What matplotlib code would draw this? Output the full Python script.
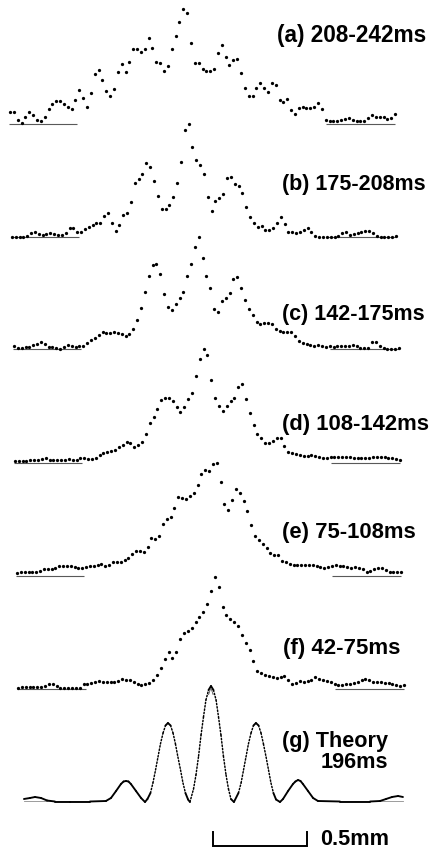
import numpy as np
import matplotlib
matplotlib.use("Agg")
import matplotlib.pyplot as plt
from matplotlib.collections import LineCollection

# ---------------- data (heights above each trace's baseline, arbitrary units) -------------
labels = ["(a) 208-242ms", "(b) 175-208ms", "(c) 142-175ms",
          "(d) 108-142ms", "(e) 75-108ms", "(f) 42-75ms"]

# position of first / last sample of each measured profile (mm)
x_start = [-1.069, -1.059, -1.048, -1.043, -1.032, -1.027]
x_end = [0.979, 0.984, 1.000, 1.005, 1.011, 1.027]

prof_a = [12, 12, 4, 1, 7, 12, 9, 4, 3, 7, 15, 20, 23, 23, 20, 17, 15, 24, 34, 26,
          17, 31, 50, 54, 44, 33, 28, 35, 52, 60, 52, 62, 75, 75, 72, 75, 86, 76, 62, 61,
          53, 58, 75, 88, 102, 115, 111, 81, 61, 61, 55, 53, 53, 55, 71, 79, 67, 59, 64, 65,
          51, 36, 28, 28, 36, 41, 36, 32, 41, 39, 24, 22, 25, 14, 10, 16, 17, 16, 16, 17,
          21, 15, 4, 3, 3, 3, 4, 5, 6, 4, 3, 3, 3, 6, 9, 7, 7, 7, 5, 6, 10]
prof_b = [0, 0, 0, 0, 1, 4, 5, 3, 2, 3, 4, 3, 2, 2, 4, 9, 9, 5, 5, 8,
          10, 12, 14, 14, 21, 24, 14, 6, 12, 22, 24, 35, 54, 58, 63, 74, 70, 56, 41, 28,
          28, 32, 40, 54, 75, 107, 113, 90, 77, 72, 63, 40, 26, 36, 39, 43, 59, 60, 53, 51,
          44, 30, 20, 14, 10, 11, 7, 7, 9, 14, 20, 13, 5, 5, 4, 5, 7, 9, 5, 1,
          0, 0, 0, 0, 0, 1, 4, 5, 2, 3, 4, 5, 6, 6, 4, 1, 0, 0, 0, 0, 1]
prof_c = [3, 1, 1, 2, 2, 4, 5, 7, 5, 2, 2, 1, 0, 2, 4, 3, 2, 3, 3, 6,
          9, 11, 14, 17, 16, 16, 17, 16, 15, 13, 15, 20, 29, 41, 57, 73, 84, 85, 75, 55,
          42, 39, 45, 51, 57, 73, 85, 102, 112, 91, 73, 61, 40, 37, 48, 51, 56, 70, 72, 61,
          49, 40, 34, 27, 25, 26, 26, 25, 20, 18, 17, 17, 17, 13, 8, 6, 5, 4, 3, 4,
          3, 2, 3, 2, 3, 3, 3, 3, 4, 3, 1, 1, 1, 7, 7, 3, 1, 0, 0, 0, 1]
prof_d = [2, 2, 2, 2, 3, 3, 3, 4, 5, 3, 3, 3, 3, 3, 4, 3, 3, 5, 5, 4,
          4, 5, 8, 10, 11, 12, 13, 16, 18, 21, 20, 16, 18, 21, 29, 40, 46, 54, 63, 65,
          65, 62, 56, 51, 56, 64, 70, 87, 104, 114, 108, 83, 65, 57, 52, 57, 62, 65, 76, 79,
          64, 50, 38, 29, 25, 20, 20, 22, 25, 25, 17, 11, 10, 9, 8, 7, 7, 8, 7, 6,
          5, 5, 6, 6, 6, 6, 6, 6, 5, 5, 5, 5, 5, 6, 6, 6, 6, 5, 5, 4, 3]
prof_e = [3, 4, 4, 4, 4, 4, 5, 7, 7, 7, 8, 10, 10, 10, 10, 9, 8, 8, 9, 10,
          10, 11, 12, 10, 11, 14, 14, 14, 16, 18, 22, 25, 25, 24, 29, 38, 37, 40, 52, 57,
          59, 68, 79, 78, 77, 80, 83, 91, 102, 106, 105, 112, 113, 94, 72, 66, 76, 87, 83, 75,
          65, 51, 40, 36, 32, 28, 23, 21, 21, 15, 14, 12, 11, 11, 11, 11, 11, 11, 10, 9,
          8, 9, 10, 11, 10, 10, 9, 8, 9, 8, 7, 4, 5, 7, 8, 8, 6, 4, 4, 4, 4]
prof_f = [1, 2, 2, 2, 2, 2, 2, 3, 5, 5, 3, 1, 1, 1, 1, 1, 1, 5, 5, 6,
          7, 8, 7, 7, 7, 7, 8, 10, 9, 9, 7, 5, 4, 5, 6, 9, 14, 21, 30, 37,
          31, 37, 50, 56, 58, 61, 67, 72, 77, 85, 98, 112, 102, 82, 74, 70, 67, 63, 54, 46,
          39, 28, 18, 16, 14, 13, 12, 11, 12, 13, 9, 5, 6, 8, 7, 8, 9, 12, 10, 9,
          8, 7, 5, 4, 4, 5, 5, 6, 7, 9, 10, 9, 7, 7, 7, 6, 6, 5, 4, 3, 4]
profiles = [prof_a, prof_b, prof_c, prof_d, prof_e, prof_f]

# theory curve (g), 196 ms : position (mm) and height
theory_x = [-0.995, -0.963, -0.936, -0.904, -0.872, -0.830, -0.750, -0.644, -0.559, -0.532,
            -0.505, -0.479, -0.465, -0.452, -0.439, -0.426, -0.399, -0.372, -0.351, -0.338,
            -0.322, -0.309, -0.295, -0.282, -0.269, -0.255, -0.242, -0.229, -0.215, -0.202,
            -0.189, -0.176, -0.162, -0.149, -0.136, -0.122, -0.112, -0.093, -0.080, -0.066,
            -0.053, -0.040, -0.027, -0.013, 0.000, 0.013, 0.027, 0.040, 0.053, 0.066,
            0.080, 0.093, 0.106, 0.122, 0.146, 0.160, 0.173, 0.186, 0.199, 0.213,
            0.226, 0.239, 0.253, 0.266, 0.279, 0.293, 0.306, 0.319, 0.332, 0.346,
            0.367, 0.383, 0.410, 0.436, 0.449, 0.463, 0.476, 0.489, 0.516, 0.543,
            0.569, 0.686, 0.846, 0.899, 0.931, 0.963, 0.995, 1.021]
theory_h = [2, 3, 4, 3, 0.5, -0.5, -0.5, -0.5, 0, 3,
            10, 17, 19.5, 20, 19.5, 17, 10, 3, -1, 2,
            8, 18, 31, 44, 57, 68, 75.5, 78, 75.5, 68,
            57, 44, 31, 18, 8, 1.5, -1, 12, 26, 45,
            66, 84, 101, 111, 115, 111, 101, 84, 66, 45,
            26, 12, 2, -1, 8, 18, 31, 44, 57, 68,
            75.5, 78, 75.5, 68, 57, 44, 31, 18, 8, 1.5,
            -1, 2, 10, 17, 19.5, 21, 20, 17, 10, 3,
            0, -0.5, -0.5, 0, 2, 4, 5, 4]
theory_label = ["(g) Theory", "196ms"]
scale_mm = 0.5
scale_label = "0.5mm"

# ---------------- layout ----------------
W, H = 432, 849
fig = plt.figure(figsize=(W / 100, H / 100), dpi=100)
ax = fig.add_axes([0, 0, 1, 1])
ax.axis("off")
PXMM = 188.0          # pixels per mm
X0 = 211.0            # pixel column of x = 0
ax.set_xlim(-X0 / PXMM, (W - X0) / PXMM)
ax.set_ylim(0, H)


def P(xp, yp):
    return (xp - X0) / PXMM, H - yp


baselines_px = [124, 236.5, 349, 463, 576, 689]
label_pos = [(277, 42), (282, 190), (282, 320), (282, 430), (282, 538), (283, 654)]
label_size = [16.3, 15.5, 15.5, 15.8, 15.8, 16.0]
FAM = ["Liberation Sans", "DejaVu Sans"]

for prof, xs, xe, bpx, lab, lp, fs in zip(profiles, x_start, x_end, baselines_px,
                                          labels, label_pos, label_size):
    off = H - bpx
    x = np.linspace(xs, xe, len(prof))
    y = off + np.asarray(prof, float)
    dx = x[1] - x[0]
    ax.plot([x[0] - 0.3 * dx, x[17] + 0.5 * dx], [off, off], color="0.35", lw=0.8,
            solid_capstyle="butt", zorder=1)
    ax.plot([x[82], x[-1]], [off, off], color="0.35", lw=0.8, solid_capstyle="butt", zorder=1)
    ax.plot(x, y, "o", ms=2.35, color="black", mec="none", zorder=2)
    tx, ty = P(*lp)
    ax.text(tx, ty, lab, ha="left", va="baseline", color="black", family=FAM,
            fontweight="bold", fontsize=fs)

# caret mark under peak of (f)
cx, cy = P(211, 697)
ax.text(cx, cy, "Λ", ha="center", va="bottom", fontsize=6, color="0.3",
        family="DejaVu Sans")

# theory curve: solid where shallow, dotted where steep
goff = H - 801
tx_ = np.asarray(theory_x)
ty_ = goff + np.asarray(theory_h, float)
pts = np.column_stack([tx_, ty_])
segs, styles, widths = [], [], []
for i in range(len(pts) - 1):
    slope = abs(ty_[i + 1] - ty_[i]) / ((tx_[i + 1] - tx_[i]) * PXMM)
    segs.append(pts[i:i + 2])
    if slope > 2.6:
        styles.append((0, (1.0, 1.3)))
        widths.append(1.05)
    else:
        styles.append("solid")
        widths.append(1.35)
lc = LineCollection(segs, colors="black", linestyles=styles, linewidths=widths,
                    capstyle="round", zorder=2)
ax.add_collection(lc)
ax.plot([tx_[0], tx_[8]], [goff, goff], color="0.55", lw=0.6, zorder=1)
ax.plot([tx_[80], tx_[-1]], [goff, goff], color="0.55", lw=0.6, zorder=1)

for line, (lxp, lyp) in zip(theory_label, [(388, 747), (388, 768)]):
    gx, gy = P(lxp, lyp)
    ax.text(gx, gy, line, ha="right", va="baseline", family=FAM, fontweight="bold",
            fontsize=15.6)

# scale bar
sx0, sy_bot = P(213, 846)
_, sy_top = P(213, 832)
sx1 = sx0 + scale_mm
ax.plot([sx0, sx0, sx1, sx1], [sy_top, sy_bot, sy_bot, sy_top], color="black", lw=1.4,
        solid_joinstyle="miter")
lx, ly = P(320, 845)
ax.text(lx, ly, scale_label, ha="left", va="baseline", family=FAM, fontweight="bold",
        fontsize=15.6)

fig.savefig("out.png", dpi=100)
